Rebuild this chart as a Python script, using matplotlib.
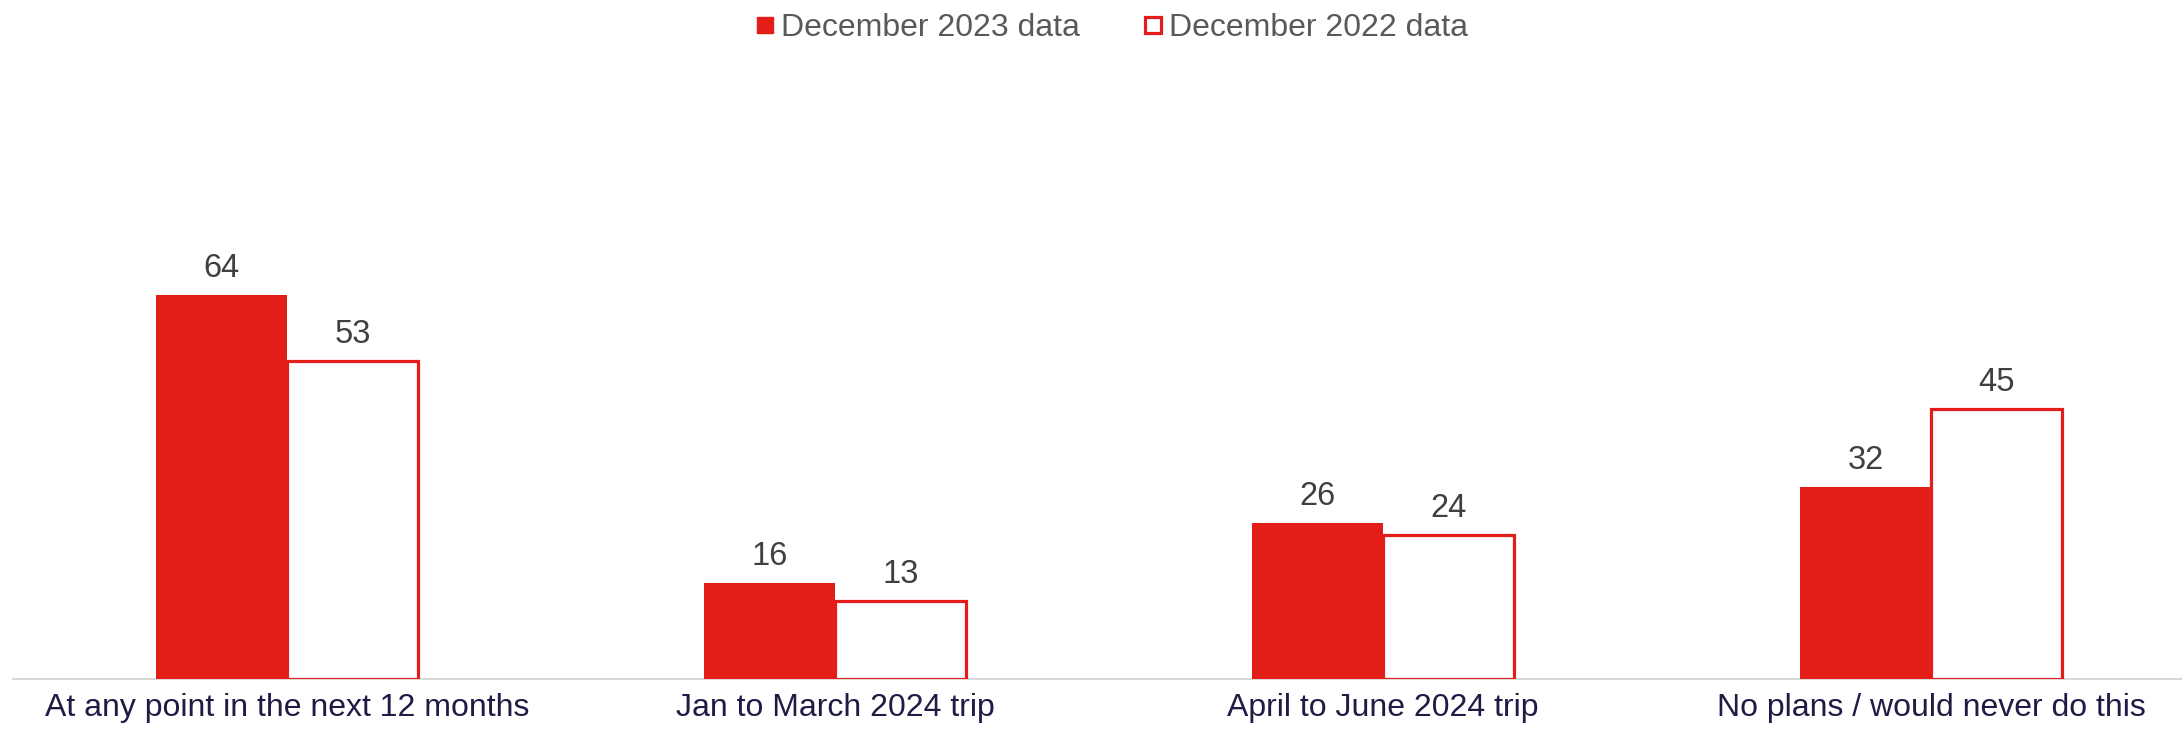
import matplotlib.pyplot as plt
import numpy as np

plt.rcParams["font.family"] = ["Liberation Sans", "DejaVu Sans"]

categories = [
    "At any point in the next 12 months",
    "Jan to March 2024 trip",
    "April to June 2024 trip",
    "No plans / would never do this",
]
dec_2023 = [64, 16, 26, 32]
dec_2022 = [53, 13, 24, 45]
series_names = ["December 2023 data", "December 2022 data"]

red = "#E31E18"

fig = plt.figure(figsize=(21.82, 7.30), dpi=100)
ax = fig.add_axes([0.006, 0.0699, 0.994, 0.822])

x = np.arange(len(categories))
w = 0.239

b1 = ax.bar(x - w / 2, dec_2023, w, color=red, edgecolor=red, linewidth=0,
            label=series_names[0], zorder=3)
b2 = ax.bar(x + w / 2, dec_2022, w, facecolor="white", edgecolor=red,
            linewidth=2.3, label=series_names[1], zorder=3)

for bars in (b1, b2):
    for rect in bars:
        ax.annotate(f"{rect.get_height():.0f}",
                    (rect.get_x() + rect.get_width() / 2, rect.get_height()),
                    xytext=(0, 8), textcoords="offset points",
                    ha="center", va="bottom", fontsize=23.5, color="#404040")

ax.set_xlim(-0.5, 3.458)
ax.set_ylim(0, 100)
ax.set_xticks(x)
ax.set_xticklabels(categories, fontsize=23, color="#1F1B45")
ax.tick_params(axis="x", length=0, pad=10)
ax.set_yticks([])
for side in ("top", "left", "right"):
    ax.spines[side].set_visible(False)
ax.spines["bottom"].set_color("#D9D9D9")
ax.spines["bottom"].set_linewidth(1.5)
ax.spines["bottom"].set_zorder(2)

handles = [
    plt.Line2D([], [], marker="s", linestyle="none", markersize=11,
               markerfacecolor=red, markeredgecolor=red),
    plt.Line2D([], [], marker="s", linestyle="none", markersize=11,
               markerfacecolor="white", markeredgecolor=red, markeredgewidth=2.3),
]
leg = fig.legend(handles, series_names, loc="center", bbox_to_anchor=(0.508, 0.962),
                 ncol=2, frameon=False, fontsize=23, handletextpad=0.0,
                 columnspacing=1.8, handlelength=1.0)
for t in leg.get_texts():
    t.set_color("#595959")

fig.savefig("out.png", dpi=100)
